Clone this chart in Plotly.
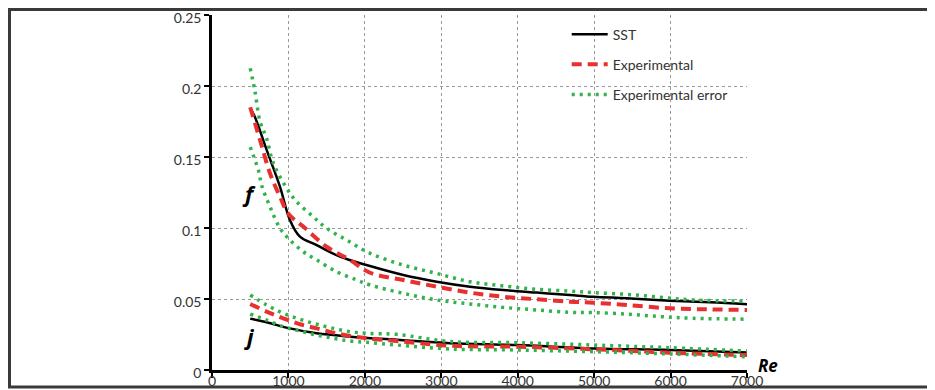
import plotly.graph_objects as go

# ---- data ----
re_f_sst = [500, 550, 715, 890, 1020, 1151, 1370, 1675, 2067, 2503, 2940, 3376, 3811, 4248, 4684, 4989, 5426, 5993, 6516, 7000]
f_sst = [0.184, 0.1796, 0.155, 0.129, 0.1056, 0.0939, 0.088, 0.0798, 0.0732, 0.0669, 0.0622, 0.0587, 0.0563, 0.0545, 0.0528, 0.0516, 0.0505, 0.0488, 0.0477, 0.0463]

re_f_exp = [500, 628, 759, 890, 999, 1195, 1500, 1806, 2067, 2503, 2940, 3376, 3811, 4248, 4684, 4989, 5426, 5993, 6516, 7000]
f_exp = [0.185, 0.162, 0.1385, 0.122, 0.110, 0.101, 0.0868, 0.0775, 0.0685, 0.0634, 0.0587, 0.0545, 0.0516, 0.0498, 0.0481, 0.0474, 0.0458, 0.0434, 0.0427, 0.0423]

re_f_up = [500, 563, 628, 715, 800, 977, 1108, 1323, 1500, 1762, 2067, 2503, 2940, 3376, 3811, 4248, 4684, 4989, 5426, 5862, 6298, 7000]
f_up = [0.2125, 0.196, 0.175, 0.163, 0.146, 0.128, 0.1185, 0.108, 0.0998, 0.0915, 0.0822, 0.0739, 0.068, 0.0622, 0.0592, 0.0568, 0.0556, 0.0545, 0.0533, 0.0512, 0.0493, 0.0484]

re_f_lo = [500, 541, 606, 650, 759, 890, 1020, 1195, 1370, 1631, 1893, 2067, 2503, 2940, 3376, 3811, 4248, 4684, 4989, 5426, 5862, 6298, 7000]
f_lo = [0.157, 0.151, 0.141, 0.130, 0.115, 0.0998, 0.0915, 0.0833, 0.0775, 0.0692, 0.0634, 0.0599, 0.054, 0.0493, 0.0465, 0.0441, 0.0423, 0.0406, 0.0404, 0.0394, 0.0376, 0.0364, 0.0358]

re_j_sst = [500, 715, 1020, 1370, 1806, 2460, 3114, 3986, 4989, 5993, 7000]
j_sst = [0.0362, 0.0336, 0.0293, 0.0258, 0.0235, 0.0211, 0.0188, 0.0176, 0.0152, 0.0141, 0.0124]

re_j_exp = [500, 715, 933, 1151, 1370, 1588, 1806, 2024, 2416, 3114, 3986, 4989, 5993, 7000]
j_exp = [0.0465, 0.0411, 0.0364, 0.0322, 0.0293, 0.0263, 0.0239, 0.0223, 0.0204, 0.0171, 0.0164, 0.0146, 0.0122, 0.0105]

re_j_up = [500, 715, 933, 1151, 1370, 1588, 1806, 2024, 2416, 3114, 3986, 4989, 5993, 7000]
j_up = [0.0528, 0.0458, 0.0399, 0.0357, 0.0322, 0.0293, 0.027, 0.0258, 0.0251, 0.020, 0.0192, 0.0176, 0.0157, 0.0133]

re_j_lo = [500, 715, 933, 1151, 1370, 1588, 1806, 2024, 2416, 3114, 3986, 4989, 5993, 7000]
j_lo = [0.0394, 0.0352, 0.0305, 0.0275, 0.0246, 0.0223, 0.0204, 0.0195, 0.0176, 0.0148, 0.0141, 0.0129, 0.0113, 0.0093]

x_ticks = [0, 1000, 2000, 3000, 4000, 5000, 6000, 7000]
y_ticks = [0, 0.05, 0.1, 0.15, 0.2, 0.25]
y_labels = ["0", "0.05", "0.1", "0.15", "0.2", "0.25"]

BLACK = "#000000"
RED = "#e8312f"
GREEN = "#2fb34a"

fig = go.Figure()

sst_line = dict(color=BLACK, width=2.5)
exp_line = dict(color=RED, width=4, dash="10px,6px")
err_line = dict(color=GREEN, width=3.5, dash="3px,5px")

fig.add_trace(go.Scatter(x=re_f_sst, y=f_sst, mode="lines", line=sst_line, line_shape="spline",
                         name="SST", legendgroup="sst", showlegend=True))
fig.add_trace(go.Scatter(x=re_j_sst, y=j_sst, mode="lines", line=sst_line, line_shape="spline",
                         name="SST", legendgroup="sst", showlegend=False))
fig.add_trace(go.Scatter(x=re_f_exp, y=f_exp, mode="lines", line=exp_line, line_shape="spline",
                         name="Experimental", legendgroup="exp", showlegend=True))
fig.add_trace(go.Scatter(x=re_j_exp, y=j_exp, mode="lines", line=exp_line, line_shape="spline",
                         name="Experimental", legendgroup="exp", showlegend=False))
for xs, ys, show in [(re_f_up, f_up, True), (re_f_lo, f_lo, False), (re_j_up, j_up, False), (re_j_lo, j_lo, False)]:
    fig.add_trace(go.Scatter(x=xs, y=ys, mode="lines", line=err_line, line_shape="spline",
                             name="Experimental error", legendgroup="err", showlegend=show))

fig.update_layout(
    width=927, height=382,
    margin=dict(l=204, r=188, t=7, b=20),
    paper_bgcolor="white", plot_bgcolor="white",
    font=dict(family="Lato, Open Sans, sans-serif", size=14, color="#333333"),
    legend=dict(x=0.663, y=0.99, xanchor="left", yanchor="top",
                bgcolor="rgba(0,0,0,0)", traceorder="grouped", tracegroupgap=9,
                font=dict(family="Lato, sans-serif", size=14, color="#333333"),
                itemwidth=36),
    xaxis=dict(range=[0, 7000], tickvals=x_ticks, ticks="outside", ticklen=5, tickwidth=2,
               tickcolor="black", showline=True, linecolor="black", linewidth=2.5,
               showgrid=True, gridcolor="#999999", griddash="dot", gridwidth=1,
               tickfont=dict(family="Lato, sans-serif", size=14, color="#333333"),
               ticklabeloverflow="allow", ticklabelstandoff=-9,
               zeroline=False, fixedrange=True, automargin=False),
    yaxis=dict(range=[0, 0.25], tickvals=y_ticks, ticktext=y_labels, ticks="outside", ticklen=5,
               tickwidth=2, tickcolor="black", showline=True, linecolor="black", linewidth=2.5,
               showgrid=True, gridcolor="#999999", griddash="dot", gridwidth=1,
               tickfont=dict(family="Lato, sans-serif", size=14, color="#333333"),
               ticklabeloverflow="allow", ticklabelshift=3,
               zeroline=False, fixedrange=True, automargin=False),
    annotations=[
        dict(x=488, y=0.125, xref="x", yref="y", text="<b><i>f</i></b>", showarrow=False,
             font=dict(family="Open Sans, sans-serif", size=22, color="black")),
        dict(x=497, y=0.024, xref="x", yref="y", text="<b><i>j</i></b>", showarrow=False,
             font=dict(family="Open Sans, sans-serif", size=22, color="black")),
        dict(x=1.039, y=0.012, xref="paper", yref="paper", xanchor="center", yanchor="middle",
             text="<b><i>Re</i></b>", showarrow=False,
             font=dict(family="Open Sans, sans-serif", size=17, color="black")),
    ],
    shapes=[
        dict(type="rect", xref="paper", yref="paper", x0=-0.3785, x1=1.37, y0=-0.0479, y1=1.0155,
             line=dict(color="#3a3a3a", width=3), fillcolor="rgba(0,0,0,0)", layer="below"),
    ],
)

fig.write_html("out.html")
